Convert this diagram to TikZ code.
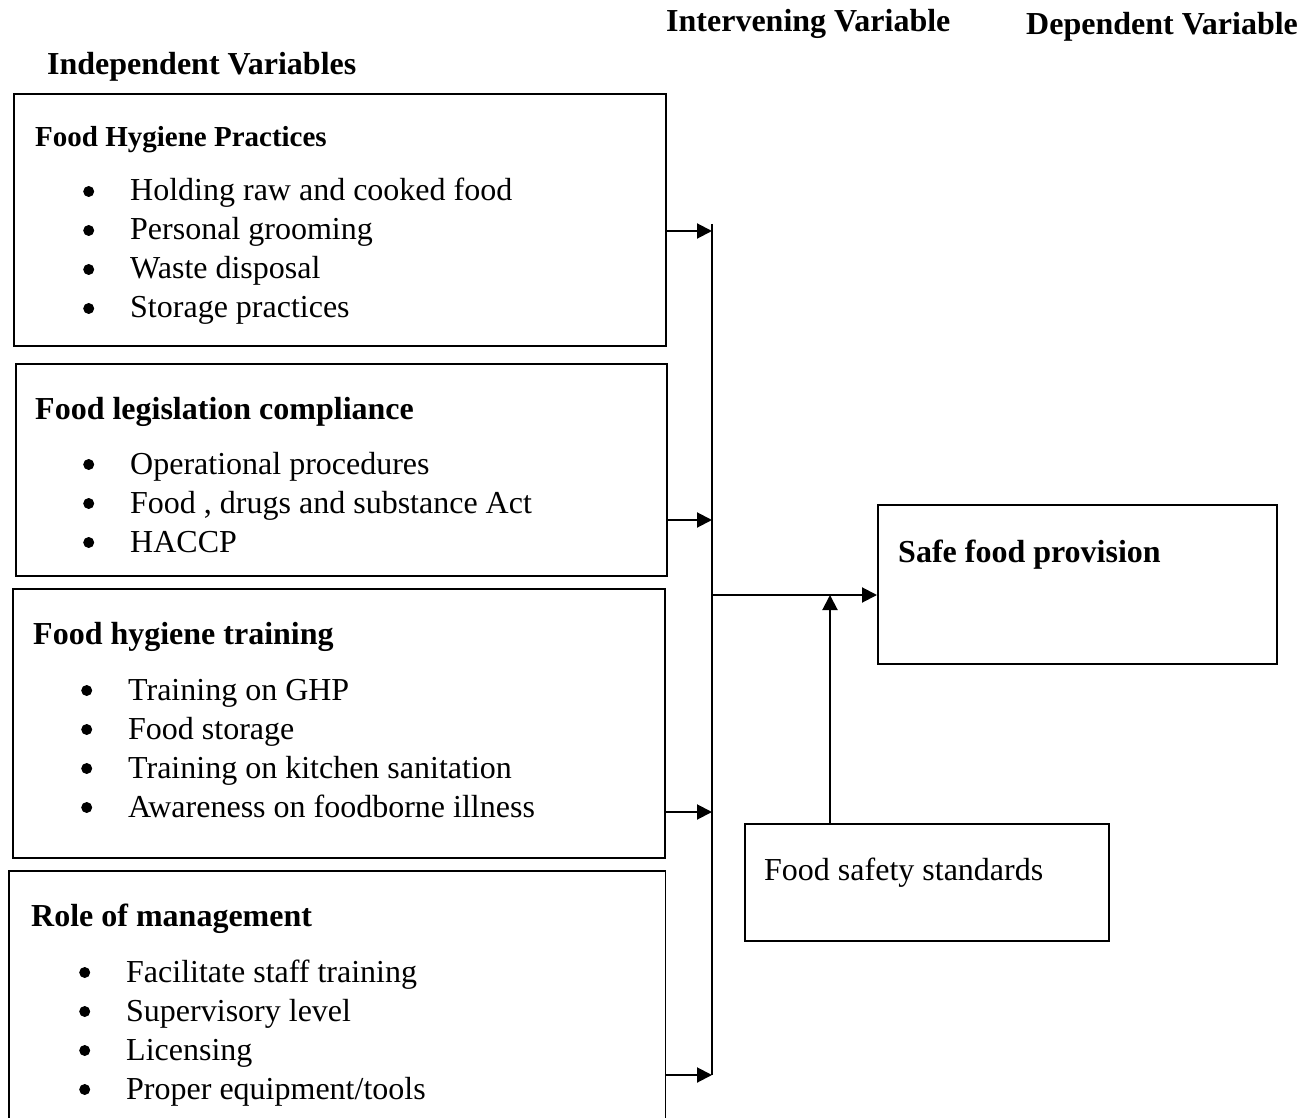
\documentclass[tikz,border=0pt]{standalone}
\usepackage{fontspec}
\setmainfont{Liberation Serif}
\usetikzlibrary{arrows.meta}
\tikzset{
  box/.style={draw, line width=1.6pt, inner sep=0pt, anchor=north west},
  lbl/.style={anchor=base west, inner sep=0pt, font=\fontsize{32}{39}\selectfont},
  hdr/.style={anchor=base west, inner sep=0pt, font=\bfseries\fontsize{32}{39}\selectfont},
  conn/.style={line width=2pt, -{Triangle[length=15pt,width=15pt]}},
  bus/.style={line width=1.5pt}
}
\newcommand{\blt}{\tikz[baseline=0pt, x=1pt, y=1pt]\fill (0,9.5) circle (5.5);}
\newcommand{\itemlist}[1]{\begin{tabular}[t]{@{}l@{\hspace{36pt}}l@{}}#1\end{tabular}}
\begin{document}
\begin{tikzpicture}[x=1pt,y=-1pt]
\useasboundingbox (0,0) rectangle (1302,1118);

% headers
\node[hdr] (hInd) at (47,75) {Independent Variables};
\node[hdr] (hInt) at (666,32) {Intervening Variable};
\node[hdr] (hDep) at (1026,35) {Dependent Variable};

% box 1
\node[box, minimum width=652pt, minimum height=252pt] (b1) at (13,93) {};
\node[hdr, font=\bfseries\fontsize{29}{35}\selectfont] (t1) at (35,147) {Food Hygiene Practices};
\node[lbl] (l1) at (83,201) {\itemlist{\blt & Holding raw and cooked food\\ \blt & Personal grooming\\ \blt & Waste disposal\\ \blt & Storage practices}};

% box 2
\node[box, minimum width=651pt, minimum height=212pt] (b2) at (15,363) {};
\node[hdr] (t2) at (35,419) {Food legislation compliance};
\node[lbl] (l2) at (83,474) {\itemlist{\blt & Operational procedures\\ \blt & Food , drugs and substance Act\\ \blt & HACCP}};

% box 3
\node[box, minimum width=652pt, minimum height=269pt] (b3) at (12,588) {};
\node[hdr] (t3) at (33,644) {Food hygiene training};
\node[lbl] (l3) at (81,700) {\itemlist{\blt & Training on GHP\\ \blt & Food storage\\ \blt & Training on kitchen sanitation\\ \blt & Awareness on foodborne illness}};

% box 4 (bottom edge cut off)
\node[inner sep=0pt, anchor=north west, minimum width=656pt, minimum height=250pt] (b4) at (9,871) {};
\draw[line width=1.6pt] (b4.south west) -- (b4.north west) -- (b4.north east) -- (b4.south east);
\node[hdr] (t4) at (31,926) {Role of management};
\node[lbl] (l4) at (79,982) {\itemlist{\blt & Facilitate staff training\\ \blt & Supervisory level\\ \blt & Licensing\\ \blt & Proper equipment/tools}};

% dependent and intervening boxes
\node[box, minimum width=399pt, minimum height=159pt] (safe) at (877,504) {};
\node[hdr] (tSafe) at (898,562) {Safe food provision};
\node[box, minimum width=364pt, minimum height=117pt] (std) at (744,823) {};
\node[lbl] (tStd) at (764,880) {Food safety standards};

% bus
\coordinate (j1) at (712,231);
\coordinate (j2) at (712,520);
\coordinate (j3) at (712,812);
\coordinate (j4) at (712,1075);
\coordinate (jm) at (712,595);
\coordinate (jTop) at (712,224);
\draw[bus] (jTop) -- (j4);

\draw[conn] (b1.east |- j1) -- (j1);
\draw[conn] (b2.east |- j2) -- (j2);
\draw[conn] (b3.east |- j3) -- (j3);
\draw[conn] (b4.east |- j4) -- (j4);
\draw[conn] (jm) -- (safe.west |- jm);
\coordinate (stdTop) at (830,823);
\draw[conn] (stdTop) -- (stdTop |- jm);
\end{tikzpicture}
\end{document}
